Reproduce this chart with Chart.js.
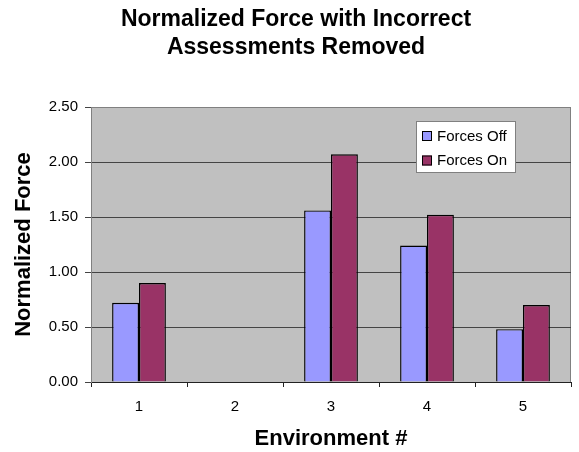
<!DOCTYPE html>
<html>
<head>
<meta charset="utf-8">
<script src="https://cdn.jsdelivr.net/npm/chart.js@4"></script>
<style>
  html, body { margin: 0; padding: 0; background: #fff; }
  #wrap { width: 579px; height: 452px; }
</style>
</head>
<body>
<div id="wrap"><canvas id="forceChart" width="579" height="452"></canvas></div>
<script>
// Chart data
const environments = ['1', '2', '3', '4', '5'];
const forcesOff = [0.72, null, 1.56, 1.24, 0.48];
const forcesOn = [0.90, null, 2.07, 1.52, 0.70];
const yTickValues = [0, 0.5, 1.0, 1.5, 2.0, 2.5];
const titleLines = ['Normalized Force with Incorrect', 'Assessments Removed'];
const seriesNames = ['Forces Off', 'Forces On'];
const seriesColors = ['#9999ff', '#993366'];

const FONT = "'Liberation Sans', Arial, sans-serif";
Chart.defaults.font.family = FONT;
Chart.defaults.color = '#000';

// grey plot area with thin border (Excel style)
const plotBackground = {
    id: 'plotBackground',
    beforeDraw(chart) {
        const { ctx, chartArea: a } = chart;
        ctx.save();
        ctx.fillStyle = '#c0c0c0';
        ctx.fillRect(a.left, a.top, a.width, a.height);
        ctx.strokeStyle = '#808080';
        ctx.lineWidth = 1;
        ctx.strokeRect(a.left + 0.5, a.top + 0.5, a.width - 1, a.height);
        ctx.restore();
    }
};

// two-line title, centred a bit right of the canvas like the original
const chartTitle = {
    id: 'chartTitle',
    afterDraw(chart) {
        const { ctx } = chart;
        ctx.save();
        ctx.font = 'bold 23px ' + FONT;
        ctx.fillStyle = '#000';
        ctx.textAlign = 'center';
        ctx.textBaseline = 'middle';
        titleLines.forEach((line, i) => ctx.fillText(line, 296, 20 + i * 28));
        ctx.restore();
    }
};

// boxed legend inside the plot area, top right
const boxLegend = {
    id: 'boxLegend',
    afterDatasetsDraw(chart) {
        const { ctx, chartArea: a } = chart;
        const x = a.right - 155, y = a.top + 14, w = 99, h = 51;
        ctx.save();
        ctx.fillStyle = '#fff';
        ctx.fillRect(x, y, w, h);
        ctx.strokeStyle = '#808080';
        ctx.lineWidth = 1;
        ctx.strokeRect(x + 0.5, y + 0.5, w, h);
        ctx.font = '15px ' + FONT;
        ctx.textBaseline = 'middle';
        chart.data.datasets.forEach((ds, i) => {
            const cy = y + 15 + i * 24.5;
            ctx.fillStyle = ds.backgroundColor;
            ctx.fillRect(x + 6, cy - 5, 10, 10);
            ctx.strokeStyle = '#000';
            ctx.strokeRect(x + 6.5, cy - 4.5, 9, 9);
            ctx.fillStyle = '#000';
            ctx.fillText(ds.label, x + 21, cy + 0.5);
        });
        ctx.restore();
    }
};

new Chart(document.getElementById('forceChart'), {
    type: 'bar',
    data: {
        labels: environments,
        datasets: [
            { label: seriesNames[0], data: forcesOff, backgroundColor: seriesColors[0] },
            { label: seriesNames[1], data: forcesOn, backgroundColor: seriesColors[1] }
        ]
    },
    options: {
        responsive: false,
        animation: false,
        layout: { padding: { top: 107, right: 8, bottom: 0, left: 0 } },
        datasets: {
            bar: {
                borderColor: '#000',
                borderWidth: 1.4,
                categoryPercentage: 0.56,
                barPercentage: 1.0
            }
        },
        scales: {
            x: {
                grid: { drawOnChartArea: false, offset: true, tickLength: 5, color: '#222' },
                border: { color: '#222' },
                ticks: { font: { size: 15 }, padding: 11, color: '#000' },
                title: {
                    display: true,
                    text: 'Environment #',
                    font: { size: 22, weight: 'bold' },
                    color: '#000',
                    padding: { top: 0, bottom: 0 }
                },
                afterFit: s => { s.height = 70; }
            },
            y: {
                min: 0,
                max: 2.5,
                afterBuildTicks: s => { s.ticks = yTickValues.map(v => ({ value: v })); },
                ticks: {
                    font: { size: 15 },
                    padding: 7,
                    color: '#000',
                    callback: v => Number(v).toFixed(2)
                },
                grid: {
                    tickLength: 6,
                    color: c => (c.tick && c.tick.value === 2.5 ? '#808080' : '#444'),
                    tickColor: '#444'
                },
                border: { color: '#808080' },
                title: {
                    display: true,
                    text: 'Normalized Force',
                    font: { size: 22, weight: 'bold' },
                    color: '#000',
                    padding: { top: 11, bottom: 0 }
                },
                afterFit: s => { s.width = 91; }
            }
        },
        plugins: {
            legend: { display: false },
            tooltip: { enabled: false },
            title: { display: false }
        }
    },
    plugins: [plotBackground, chartTitle, boxLegend]
});
</script>
</body>
</html>
